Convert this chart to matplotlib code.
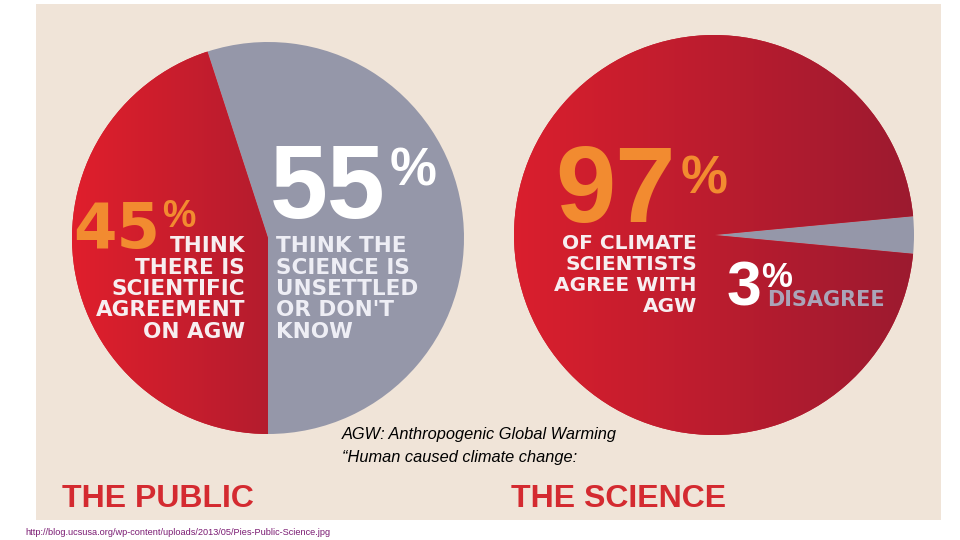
import numpy as np
import matplotlib
matplotlib.use('Agg')
import matplotlib.pyplot as plt
from matplotlib.colors import LinearSegmentedColormap
from matplotlib.patches import Rectangle

# --- Data ---
public_labels = ["Unsettled or don't know", "Scientific agreement"]
public_values = [55, 45]
science_labels = ["Disagree", "Agree with AGW"]
science_values = [3, 97]

public_agree_lines = ["THINK", "THERE IS", "SCIENTIFIC", "AGREEMENT", "ON AGW"]
public_unsure_lines = ["THINK THE", "SCIENCE IS", "UNSETTLED", "OR DON'T", "KNOW"]
science_agree_lines = ["OF CLIMATE", "SCIENTISTS", "AGREE WITH", "AGW"]
note_lines = ["AGW: Anthropogenic Global Warming", "\u201cHuman caused climate change:"]
source_url = "http://blog.ucsusa.org/wp-content/uploads/2013/05/Pies-Public-Science.jpg"

# --- Style ---
W, H = 960, 540
BEIGE = '#f0e4d8'
GREY = '#9597a9'
ORANGE = '#f28b30'
TITLE_RED = '#d42a30'
BOLD = ['DejaVu Sans']
NUM = ['Liberation Sans', 'DejaVu Sans']


def Y(py):
    # pixel row (from top) -> data y
    return H - py


fig = plt.figure(figsize=(9.6, 5.4), dpi=100)
ax = fig.add_axes([0, 0, 1, 1])
ax.axis('off')

ax.add_patch(Rectangle((36, Y(520)), 905, 516, facecolor=BEIGE,
                       edgecolor='none', zorder=0))


def gradient_pie(values, center, radius, startangle, colors, grads):
    wedges, _ = ax.pie(values, colors=colors, startangle=startangle,
                       center=center, radius=radius, frame=True,
                       wedgeprops=dict(linewidth=0))
    for w, g in zip(wedges, grads):
        if g is None:
            continue
        cols, ext = g
        cmap = LinearSegmentedColormap.from_list('g', cols)
        im = ax.imshow(np.linspace(0, 1, 256).reshape(1, -1), cmap=cmap,
                       extent=ext, aspect='auto', zorder=1.5,
                       interpolation='bilinear')
        im.set_clip_path(w)
    return wedges


# left pie: THE PUBLIC
lc, lr = (268, Y(238)), 196
gradient_pie(public_values, lc, lr, -90, [GREY, '#c81d2d'],
             [None, (['#e01f2c', '#b41c2e'],
                     (lc[0] - lr, lc[0] + 2, lc[1] - lr, lc[1] + lr))])

# right pie: THE SCIENCE
rc, rr = (714, Y(235)), 200
gradient_pie(science_values, rc, rr, -5.4, [GREY, '#c41d2e'],
             [None, (['#da1f2d', '#9c1a30'],
                     (rc[0] - rr, rc[0] + rr, rc[1] - rr, rc[1] + rr))])


def txt(x, py, s, size, color, ha='left', family=BOLD, weight='bold',
        style='normal'):
    ax.text(x, Y(py), s, fontsize=size, color=color, ha=ha, va='baseline',
            family=family, weight=weight, style=style, zorder=3)


# left pie labels
txt(73, 248, f"{public_values[1]}", 45, ORANGE)
txt(162, 227, "%", 27, ORANGE, family=NUM)
for i, line in enumerate(public_agree_lines):
    txt(245, 252 + i * 21.5, line, 15.5, '#f7eef0', ha='right')

txt(270, 218, f"{public_values[0]}", 75, 'white', family=NUM)
txt(390, 185, "%", 38, 'white', family=NUM)
for i, line in enumerate(public_unsure_lines):
    txt(276, 252 + i * 21.5, line, 15.5, '#eeeef5')

# right pie labels
txt(555, 222, f"{science_values[1]}", 78, ORANGE, family=NUM)
txt(681, 193, "%", 38, ORANGE, family=NUM)
for i, line in enumerate(science_agree_lines):
    txt(697, 249 + i * 21, line, 14.5, '#f7eef0', ha='right')

txt(727, 305, f"{science_values[0]}", 45, 'white', family=NUM)
txt(761, 287, "%", 25, 'white', family=NUM)
txt(767, 306, "DISAGREE", 15, '#aaa4b8')

# notes and titles
txt(342, 439, note_lines[0], 11.8, 'black', family=['Liberation Sans'],
    weight='normal', style='italic')
txt(342, 462, note_lines[1], 11.8, 'black', family=['Liberation Sans'],
    weight='normal', style='italic')

txt(62, 507, "THE PUBLIC", 23, TITLE_RED, family=NUM)
txt(511, 507, "THE SCIENCE", 23, TITLE_RED, family=NUM)

txt(25, 535, source_url, 6.6, '#7a1a72',
    family=['Liberation Sans Narrow', 'Liberation Sans'], weight='normal')

ax.set_xlim(0, W)
ax.set_ylim(0, H)
ax.set_aspect('auto')

fig.savefig('out.png', dpi=100, facecolor='white')
